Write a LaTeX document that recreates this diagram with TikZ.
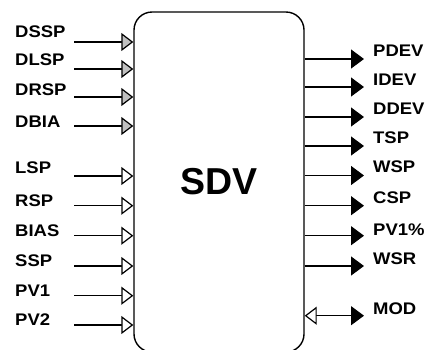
\documentclass[tikz,border=0pt]{standalone}
\usepackage{fontspec}
\setmainfont{Liberation Sans}
\newfontfamily\signalfont[FakeStretch=1.1]{Liberation Sans}
\usepackage{xcolor}
\usetikzlibrary{calc, positioning, arrows.meta}
\definecolor{inkline}  {RGB}{0,   0,   0}
\definecolor{tipgray}  {RGB}{192, 192, 192}
\definecolor{tipwhite} {RGB}{255, 255, 255}

\tikzset{
  sigtext/.style={font=\signalfont\fontsize{16.8}{18}\selectfont\bfseries,
                  anchor=base west, inner sep=0pt},
  grayin/.style={inkline, line width=1.2pt,
                 -{Triangle[length=12pt, width=18pt, fill=tipgray]}},
  whitein/.style={inkline, line width=1.2pt,
                  -{Triangle[length=12pt, width=18pt, fill=tipwhite]}},
  blackout/.style={inkline, line width=1.2pt,
                   -{Triangle[length=13pt, width=19pt]}},
  bothway/.style={inkline, line width=1.2pt,
                  {Triangle[length=12pt, width=18pt, fill=tipwhite]}-{Triangle[length=13pt, width=19pt]}}
}

\begin{document}
\begin{tikzpicture}[x=1pt, y=-1pt]
  \useasboundingbox (0,0) rectangle (428,349);
  \clip (0,0) rectangle (428,349);

  \node[draw=inkline, line width=1.4pt, rounded corners=18pt,
        minimum width=170pt, minimum height=340pt, inner sep=0pt,
        font=\fontsize{37.5}{40}\selectfont\bfseries] (sdv) at (219,182) {SDV};

  \node[sigtext] (dssp) at (15,37)  {DSSP};
  \node[sigtext] (dlsp) at (15,65)  {DLSP};
  \node[sigtext] (drsp) at (15,95)  {DRSP};
  \node[sigtext] (dbia) at (15,127) {DBIA};
  \node[sigtext] (lsp)  at (15,173) {LSP};
  \node[sigtext] (rsp)  at (15,206) {RSP};
  \node[sigtext] (bias) at (15,236) {BIAS};
  \node[sigtext] (ssp)  at (15,266.5) {SSP};
  \node[sigtext] (pva)  at (15,296) {PV1};
  \node[sigtext] (pvb)  at (15,325) {PV2};

  \coordinate (dssp-in) at (74,42);
  \coordinate (dlsp-in) at (74,69);
  \coordinate (drsp-in) at (74,97);
  \coordinate (dbia-in) at (74,126);
  \coordinate (lsp-in)  at (74,176);
  \coordinate (rsp-in)  at (74,205.7);
  \coordinate (bias-in) at (74,235.7);
  \coordinate (ssp-in)  at (74,266);
  \coordinate (pva-in)  at (74,295.7);
  \coordinate (pvb-in)  at (74,325);

  \draw[grayin]  (dssp-in) -- (dssp-in -| sdv.west);
  \draw[grayin]  (dlsp-in) -- (dlsp-in -| sdv.west);
  \draw[grayin]  (drsp-in) -- (drsp-in -| sdv.west);
  \draw[grayin]  (dbia-in) -- (dbia-in -| sdv.west);
  \draw[whitein] (lsp-in)  -- (lsp-in -| sdv.west);
  \draw[whitein] (rsp-in)  -- (rsp-in -| sdv.west);
  \draw[whitein] (bias-in) -- (bias-in -| sdv.west);
  \draw[whitein] (ssp-in)  -- (ssp-in -| sdv.west);
  \draw[whitein] (pva-in)  -- (pva-in -| sdv.west);
  \draw[whitein] (pvb-in)  -- (pvb-in -| sdv.west);

  \node[sigtext] (pdev) at (373,56)  {PDEV};
  \node[sigtext] (idev) at (373,85)  {IDEV};
  \node[sigtext] (ddev) at (373,114) {DDEV};
  \node[sigtext] (tsp)  at (373,143) {TSP};
  \node[sigtext] (wsp)  at (373,172.5) {WSP};
  \node[sigtext] (csp)  at (373,203) {CSP};
  \node[sigtext] (pvpc) at (373,235) {PV1\%};
  \node[sigtext] (wsr)  at (373,264) {WSR};
  \node[sigtext] (mod)  at (373,314) {MOD};

  \coordinate (pdev-out) at (364,59);
  \coordinate (idev-out) at (364,87);
  \coordinate (ddev-out) at (364,117);
  \coordinate (tsp-out)  at (364,146);
  \coordinate (wsp-out)  at (364,175.5);
  \coordinate (csp-out)  at (364,205.7);
  \coordinate (pvpc-out) at (364,235.7);
  \coordinate (wsr-out)  at (364,266);
  \coordinate (mod-out)  at (364,315.7);

  \draw[blackout] (pdev-out -| sdv.east) -- (pdev-out);
  \draw[blackout] (idev-out -| sdv.east) -- (idev-out);
  \draw[blackout] (ddev-out -| sdv.east) -- (ddev-out);
  \draw[blackout] (tsp-out -| sdv.east)  -- (tsp-out);
  \draw[blackout] (wsp-out -| sdv.east)  -- (wsp-out);
  \draw[blackout] (csp-out -| sdv.east)  -- (csp-out);
  \draw[blackout] (pvpc-out -| sdv.east) -- (pvpc-out);
  \draw[blackout] (wsr-out -| sdv.east)  -- (wsr-out);
  \draw[bothway]  (mod-out -| sdv.east)  -- (mod-out);
\end{tikzpicture}
\end{document}
